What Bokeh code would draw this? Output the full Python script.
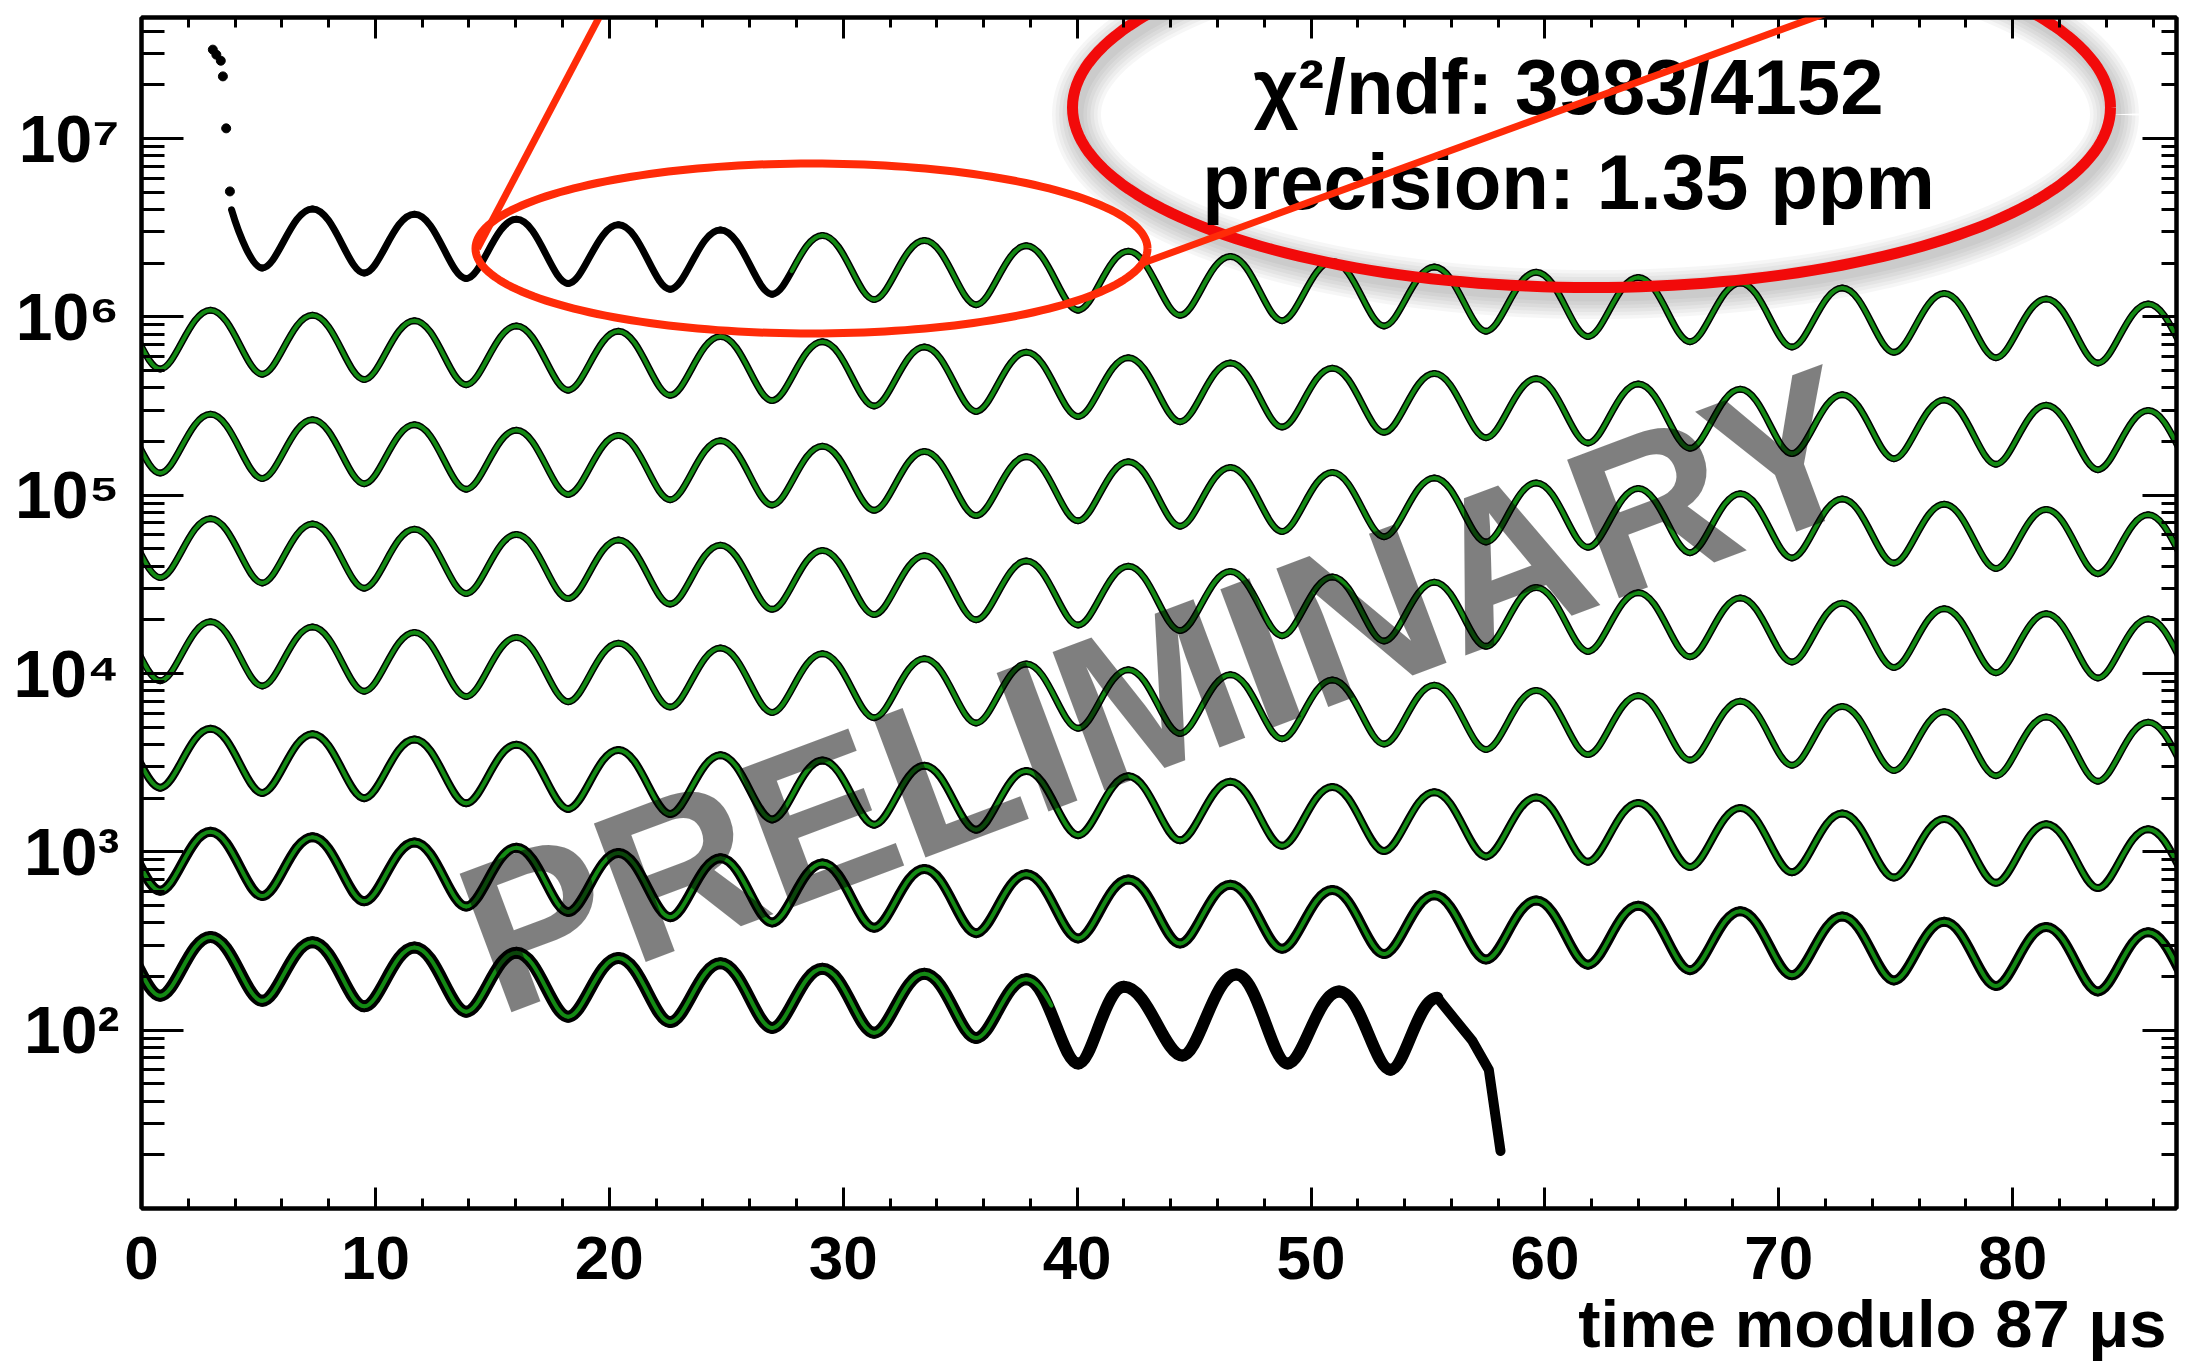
import math

from bokeh.plotting import figure
from bokeh.models import (Arrow, ColumnDataSource, FixedTicker, Label,
                          LinearAxis, LogAxis, Range1d)
from bokeh.embed import file_html
from bokeh.resources import INLINE

try:
    from bokeh.models import HTMLLabel as WatermarkLabel
    HTML_WATERMARK = True
except ImportError:
    WatermarkLabel = Label
    HTML_WATERMARK = False

# ---------------------------------------------------------------------------
# Data: positron counts folded into 87 us slices (row 1 = earliest slice).
# Each slice is described by the counts at its wiggle peaks and troughs.
# ---------------------------------------------------------------------------
PEAK_T = [-1.41, 2.95, 7.31, 11.67, 16.03, 20.39, 24.75, 29.11, 33.47, 37.83,
          42.19, 46.55, 50.91, 55.27, 59.63, 63.99, 68.35, 72.71, 77.07,
          81.43, 85.79]
TROUGH_T = [0.80, 5.16, 9.52, 13.88, 18.24, 22.60, 26.96, 31.32, 35.68, 40.04,
            44.40, 48.76, 53.12, 57.48, 61.84, 66.20, 70.56, 74.92, 79.28,
            83.64, 88.00]

ROW1_PEAKS = [None, None, 4.03e6, 3.76e6, 3.52e6, 3.28e6, 3.07e6, 2.86e6,
              2.68e6, 2.50e6, 2.33e6, 2.18e6, 2.04e6, 1.90e6, 1.78e6, 1.66e6,
              1.55e6, 1.45e6, 1.35e6, 1.26e6, 1.18e6]
ROW1_TROUGHS = [None, 1.88e6, 1.76e6, 1.64e6, 1.54e6, 1.43e6, 1.34e6, 1.25e6,
                1.17e6, 1.09e6, 1.02e6, 9.52e5, 8.89e5, 8.31e5, 7.76e5, 7.25e5,
                6.77e5, 6.32e5, 5.90e5, 5.51e5, 5.15e5]

ROW2_PEAKS = [1.17e6, 1.09e6, 1.02e6, 9.52e5, 8.89e5, 8.30e5, 7.76e5, 7.25e5,
              6.77e5, 6.32e5, 5.90e5, 5.51e5, 5.15e5, 4.81e5, 4.49e5, 4.20e5,
              3.92e5, 3.66e5, 3.42e5, 3.19e5, 2.98e5]
ROW2_TROUGHS = [5.10e5, 4.77e5, 4.45e5, 4.16e5, 3.88e5, 3.63e5, 3.39e5, 3.16e5,
                2.95e5, 2.76e5, 2.58e5, 2.41e5, 2.25e5, 2.10e5, 1.96e5, 1.83e5,
                1.71e5, 1.60e5, 1.49e5, 1.39e5, 1.30e5]

ROW3_PEAKS = [3.04e5, 2.84e5, 2.65e5, 2.48e5, 2.31e5, 2.16e5, 2.02e5, 1.88e5,
              1.76e5, 1.64e5, 1.54e5, 1.43e5, 1.34e5, 1.25e5, 1.17e5, 1.09e5,
              1.02e5, 9.52e4, 8.89e4, 8.30e4, 7.76e4]
ROW3_TROUGHS = [1.33e5, 1.24e5, 1.16e5, 1.08e5, 1.01e5, 9.43e4, 8.81e4, 8.23e4,
                7.68e4, 7.18e4, 6.70e4, 6.26e4, 5.85e4, 5.46e4, 5.10e4, 4.76e4,
                4.45e4, 4.16e4, 3.88e4, 3.63e4, 3.39e4]

ROW4_PEAKS = [7.90e4, 7.38e4, 6.89e4, 6.44e4, 6.01e4, 5.61e4, 5.24e4, 4.90e4,
              4.58e4, 4.27e4, 3.99e4, 3.73e4, 3.48e4, 3.25e4, 3.04e4, 2.84e4,
              2.65e4, 2.48e4, 2.31e4, 2.16e4, 2.02e4]
ROW4_TROUGHS = [3.45e4, 3.22e4, 3.01e4, 2.81e4, 2.63e4, 2.45e4, 2.29e4, 2.14e4,
                2.00e4, 1.87e4, 1.74e4, 1.63e4, 1.52e4, 1.42e4, 1.33e4, 1.24e4,
                1.16e4, 1.08e4, 1.01e4, 9.43e3, 8.81e3]

ROW5_PEAKS = [2.09e4, 1.95e4, 1.82e4, 1.70e4, 1.59e4, 1.48e4, 1.39e4, 1.29e4,
              1.21e4, 1.13e4, 1.05e4, 9.85e3, 9.20e3, 8.59e3, 8.03e3, 7.50e3,
              7.00e3, 6.54e3, 6.11e3, 5.71e3, 5.33e3]
ROW5_TROUGHS = [9.11e3, 8.51e3, 7.95e3, 7.43e3, 6.94e3, 6.48e3, 6.05e3, 5.65e3,
                5.28e3, 4.93e3, 4.61e3, 4.30e3, 4.02e3, 3.75e3, 3.51e3, 3.27e3,
                3.06e3, 2.86e3, 2.67e3, 2.49e3, 2.33e3]

ROW6_PEAKS = [5.24e3, 4.90e3, 4.57e3, 4.27e3, 3.99e3, 3.73e3, 3.48e3, 3.25e3,
              3.04e3, 2.84e3, 2.65e3, 2.47e3, 2.31e3, 2.16e3, 2.02e3, 1.88e3,
              1.76e3, 1.64e3, 1.53e3, 1.43e3, 1.34e3]
ROW6_TROUGHS = [2.29e3, 2.14e3, 2.00e3, 1.87e3, 1.74e3, 1.63e3, 1.52e3, 1.42e3,
                1.33e3, 1.24e3, 1.16e3, 1.08e3, 1.01e3, 943, 880, 822, 768, 717,
                670, 626, 585]

ROW7_PEAKS = [1385, 1294, 1209, 1129, 1054, 985, 920, 859, 802, 749, 700, 654,
              611, 570, 533, 498, 465, 434, 405, 379, 354]
ROW7_TROUGHS = [605, 565, 528, 493, 460, 430, 402, 375, 350, 327, 306, 286,
                267, 249, 233, 217, 203, 190, 177, 165, 154]

ROW8_PEAKS = [357, 333, 311, 291, 272, 254, 237, 221, 207, 193]
ROW8_TROUGHS = [156, 146, 136, 127, 119, 111, 103, 96.6, 90.3, 84.3]

# First bins of the top slice (before the wiggle settles)
EARLY_T = [3.05, 3.20, 3.39, 3.48, 3.62, 3.78]
EARLY_N = [3.15e7, 2.95e7, 2.73e7, 2.23e7, 1.14e7, 5.05e6]
ROW1_START_T = 3.85
ROW1_START_N = 3.98e6

# Late bins of the last slice, outside the fitted range
ROW8_TAIL_T = [40.05, 42.0, 44.5, 46.8, 49.0, 51.2, 53.4, 55.4]
ROW8_TAIL_N = [65, 175, 72, 205, 65, 165, 60, 152]
ROW8_DROP_T = [55.4, 56.9, 57.6, 58.1]
ROW8_DROP_N = [152, 87, 60, 21]

FIT_START_ROW1 = 27.8
FIT_END_ROW8 = 38.9

X_MAJOR = [0, 10, 20, 30, 40, 50, 60, 70, 80]
Y_MAJOR = [1e2, 1e3, 1e4, 1e5, 1e6, 1e7]
Y_TICK_LABELS = ["10²", "10³", "10⁴", "10⁵", "10⁶", "10⁷"]

CHI2_TEXT = "χ²/ndf: 3983/4152"
PRECISION_TEXT = "precision: 1.35 ppm"
WATERMARK = "PRELIMINARY"
X_TITLE = "time modulo 87 μs"
X_TITLE_AT = 74

# ---------------------------------------------------------------------------
# Layout
# ---------------------------------------------------------------------------
W, H = 2188, 1363
FL, FR, FT, FB = 141, 2176, 17, 1208
XMIN, XMAX = 0.0, 87.0
YMIN, YMAX = 10.0, 4.77e7
LMIN, LMAX = math.log10(YMIN), math.log10(YMAX)

FONT = "Liberation Sans"
DATA_COLOR = "black"
FIT_COLOR = "#148a14"
RED_BIG = "#f20a0a"
RED_ZOOM = "#ff2b08"


def px_x(px):
    return XMIN + (px - FL) / (FR - FL) * (XMAX - XMIN)


def px_y(py):
    return 10 ** (LMIN + (FB - py) / (FB - FT) * (LMAX - LMIN))


# ---------------------------------------------------------------------------
# Wiggle drawing helpers: cubic Bezier pieces between successive extrema
# ---------------------------------------------------------------------------
KP, KT = 0.42, 0.31   # control offsets (rounder peaks, sharper troughs)


def extrema(peaks, troughs):
    pts = []
    for i in range(max(len(peaks), len(troughs))):
        if i < len(peaks) and peaks[i] is not None:
            pts.append((PEAK_T[i], peaks[i]))
        if i < len(troughs) and troughs[i] is not None:
            pts.append((TROUGH_T[i], troughs[i]))
    return pts


def seg_piece(a, b):
    (xa, ya), (xb, yb) = a, b
    dx = xb - xa
    ka, kb = (KP, KT) if ya > yb else (KT, KP)
    return [(xa, ya), (xa + ka * dx, ya), (xb - kb * dx, yb), (xb, yb)]


def split_piece(piece, x_cut):
    P = [(x, math.log10(y)) for x, y in piece]

    def bx(u):
        return ((1 - u) ** 3 * P[0][0] + 3 * u * (1 - u) ** 2 * P[1][0]
                + 3 * u * u * (1 - u) * P[2][0] + u ** 3 * P[3][0])

    lo, hi = 0.0, 1.0
    for _ in range(60):
        mid = 0.5 * (lo + hi)
        if bx(mid) < x_cut:
            lo = mid
        else:
            hi = mid
    u = 0.5 * (lo + hi)

    def lerp(p, q):
        return (p[0] + (q[0] - p[0]) * u, p[1] + (q[1] - p[1]) * u)

    q0, q1, q2 = lerp(P[0], P[1]), lerp(P[1], P[2]), lerp(P[2], P[3])
    r0, r1 = lerp(q0, q1), lerp(q1, q2)
    s = lerp(r0, r1)
    back = lambda pts: [(x, 10 ** l) for x, l in pts]
    return back([P[0], q0, r0, s]), back([s, r1, q2, P[3]])


def pieces_of(pts):
    return [seg_piece(a, b) for a, b in zip(pts[:-1], pts[1:])]


def draw_pieces(p, pieces, color, width):
    cols = dict(x0=[], y0=[], cx0=[], cy0=[], cx1=[], cy1=[], x1=[], y1=[])
    for (p0, c0, c1, p1) in pieces:
        cols["x0"].append(p0[0]); cols["y0"].append(p0[1])
        cols["cx0"].append(c0[0]); cols["cy0"].append(c0[1])
        cols["cx1"].append(c1[0]); cols["cy1"].append(c1[1])
        cols["x1"].append(p1[0]); cols["y1"].append(p1[1])
    p.bezier(x0="x0", y0="y0", x1="x1", y1="y1", cx0="cx0", cy0="cy0",
             cx1="cx1", cy1="cy1", source=ColumnDataSource(cols),
             line_color=color, line_width=width, line_cap="round")


def ellipse_xy(cx, cy, a, b, dx=0.0, dy=0.0, n=200):
    xs, ys = [], []
    for k in range(n + 1):
        t = 2 * math.pi * k / n
        xs.append(px_x(cx + dx + a * math.cos(t)))
        ys.append(px_y(cy + dy + b * math.sin(t)))
    return xs, ys


def text_label(px, py, text, size, align="left", color="black", **kw):
    return Label(x=px_x(px), y=px_y(py), text=text, text_align=align,
                 text_baseline="alphabetic", text_font=FONT,
                 text_font_style="bold", text_font_size=size,
                 text_color=color, **kw)


# ---------------------------------------------------------------------------
# Figure and axes
# ---------------------------------------------------------------------------
p = figure(width=W, height=H, x_range=Range1d(XMIN, XMAX),
           y_range=Range1d(YMIN, YMAX), y_axis_type="log",
           output_backend="svg", toolbar_location=None,
           min_border_left=FL, min_border_right=W - FR,
           min_border_top=FT, min_border_bottom=H - FB)
p.background_fill_color = "white"
p.border_fill_color = "white"
p.outline_line_color = "black"
p.outline_line_width = 4
p.grid.visible = False

x_ticker = FixedTicker(ticks=X_MAJOR,
                       minor_ticks=[v for v in range(0, 88, 2) if v % 10])
y_minor = [m * 10 ** e for e in range(1, 8) for m in range(2, 10)
           if m * 10 ** e < YMAX]
y_ticker = FixedTicker(ticks=Y_MAJOR, minor_ticks=y_minor)


def style_axis(ax, major_in, minor_in):
    ax.axis_line_width = 4
    ax.major_tick_line_width = 3
    ax.minor_tick_line_width = 3
    ax.major_tick_in = major_in
    ax.major_tick_out = 0
    ax.minor_tick_in = minor_in
    ax.minor_tick_out = 0


def bold_labels(ax, size, standoff):
    ax.major_label_text_font = FONT
    ax.major_label_text_font_style = "bold"
    ax.major_label_text_font_size = size
    ax.major_label_text_color = "black"
    ax.major_label_standoff = standoff


def no_labels(ax):
    ax.major_label_text_color = None
    ax.major_label_text_font_size = "10px"
    ax.major_label_standoff = 0


# bottom axis with the time numbers
xb = p.xaxis[0]
xb.ticker = x_ticker
style_axis(xb, 21, 10)
bold_labels(xb, "62px", 28)

# axis title, set under the numbers at the right end
xtitle = LinearAxis(ticker=FixedTicker(ticks=[X_TITLE_AT], minor_ticks=[]),
                    major_label_overrides={X_TITLE_AT: X_TITLE})
xtitle.axis_line_color = None
xtitle.major_tick_line_color = None
xtitle.minor_tick_line_color = None
xtitle.major_tick_in = 0
xtitle.major_tick_out = 0
bold_labels(xtitle, "67px", 4)
p.add_layout(xtitle, "below")

# top axis: ticks only
xt = LinearAxis(ticker=x_ticker)
style_axis(xt, 21, 10)
no_labels(xt)
p.add_layout(xt, "above")

# left axis with 10^n labels
yl = p.yaxis[0]
yl.ticker = y_ticker
style_axis(yl, 42, 23)
yl.major_label_overrides = dict(zip(Y_MAJOR, Y_TICK_LABELS))
bold_labels(yl, "66px", 22)

# right axis: ticks only
yr = LogAxis(ticker=y_ticker)
style_axis(yr, 34, 15)
no_labels(yr)
p.add_layout(yr, "right")

# ---------------------------------------------------------------------------
# Shadow under the result ellipse
# ---------------------------------------------------------------------------
BIG = (1591, 107, 519, 180)
SMALL = (811, 248, 336, 85)

sx, sy = ellipse_xy(*BIG, dx=4, dy=7)
for i in range(6):
    p.line(sx, sy, line_color="black", line_alpha=0.035,
           line_width=14 + 7 * i, line_join="round")

# ---------------------------------------------------------------------------
# Wiggles: data (black) underneath, fit (green) on top
# ---------------------------------------------------------------------------
rows = [
    (ROW2_PEAKS, ROW2_TROUGHS, 7),
    (ROW3_PEAKS, ROW3_TROUGHS, 7),
    (ROW4_PEAKS, ROW4_TROUGHS, 7),
    (ROW5_PEAKS, ROW5_TROUGHS, 7),
    (ROW6_PEAKS, ROW6_TROUGHS, 8),
    (ROW7_PEAKS, ROW7_TROUGHS, 10),
]

row1_pts = extrema(ROW1_PEAKS, ROW1_TROUGHS)
(x0, y0), (x1, y1) = (ROW1_START_T, ROW1_START_N), row1_pts[0]
head = [(x0, y0), (x0 + 0.25 * (x1 - x0), y0 * (y1 / y0) ** 0.45),
        (x1 - KT * (x1 - x0), y1), (x1, y1)]
draw_pieces(p, [head] + pieces_of(row1_pts), DATA_COLOR, 7)

for peaks, troughs, w in rows:
    draw_pieces(p, pieces_of(extrema(peaks, troughs)), DATA_COLOR, w)

row8_fit = extrema(ROW8_PEAKS, ROW8_TROUGHS)
row8_data = row8_fit[:-1] + list(zip(ROW8_TAIL_T, ROW8_TAIL_N))
draw_pieces(p, pieces_of(row8_data), DATA_COLOR, 12)
p.line(ROW8_DROP_T, ROW8_DROP_N, line_color=DATA_COLOR, line_width=10,
       line_cap="round", line_join="round")

p.scatter(EARLY_T, EARLY_N, size=9, color=DATA_COLOR)

i1 = next(i for i in range(len(row1_pts) - 1)
          if row1_pts[i][0] <= FIT_START_ROW1 < row1_pts[i + 1][0])
_, first = split_piece(seg_piece(row1_pts[i1], row1_pts[i1 + 1]), FIT_START_ROW1)
draw_pieces(p, [first] + pieces_of(row1_pts[i1 + 1:]), FIT_COLOR, 4)

for peaks, troughs, _ in rows:
    draw_pieces(p, pieces_of(extrema(peaks, troughs)), FIT_COLOR, 4)

last, _ = split_piece(seg_piece(row8_fit[-2], row8_fit[-1]), FIT_END_ROW8)
draw_pieces(p, pieces_of(row8_fit[:-1]) + [last], FIT_COLOR, 4)

# ---------------------------------------------------------------------------
# Zoom call-out: result ellipse, small ellipse, left guide line
# ---------------------------------------------------------------------------
ex, ey = ellipse_xy(*BIG)
p.line(ex, ey, line_color=RED_BIG, line_width=11, line_join="round")

ex, ey = ellipse_xy(*SMALL)
p.line(ex, ey, line_color=RED_ZOOM, line_width=8, line_join="round")

p.line([px_x(477), px_x(618)], [px_y(248), px_y(-20)], line_color=RED_ZOOM,
       line_width=7)

# ---------------------------------------------------------------------------
# Fit summary inside the ellipse; the right guide line runs over it
# ---------------------------------------------------------------------------
p.add_layout(text_label(1568, 86, CHI2_TEXT, "78px", align="center"))
p.add_layout(text_label(1568, 181, PRECISION_TEXT, "78px", align="center"))

p.add_layout(Arrow(x_start=px_x(1144), y_start=px_y(262),
                   x_end=px_x(1915), y_end=px_y(-20), end=None,
                   line_color=RED_ZOOM, line_width=7))

# ---------------------------------------------------------------------------
# Watermark, centre of the capitals at (1162, 690)
# ---------------------------------------------------------------------------
theta = math.radians(20.5)
if HTML_WATERMARK:
    p.add_layout(WatermarkLabel(x=px_x(1162), y=px_y(690), text=WATERMARK,
                                angle=theta, text_align="center",
                                text_baseline="middle", text_font=FONT,
                                text_font_style="bold", text_font_size="215px",
                                text_color="black", text_alpha=0.5))
else:
    half_cap = 0.716 * 215 / 2
    p.add_layout(text_label(1162 + half_cap * math.sin(theta),
                            690 + half_cap * math.cos(theta), WATERMARK,
                            "215px", align="center", color="#7f7f7f",
                            angle=theta))

open("out.html", "w").write(file_html(p, INLINE))
